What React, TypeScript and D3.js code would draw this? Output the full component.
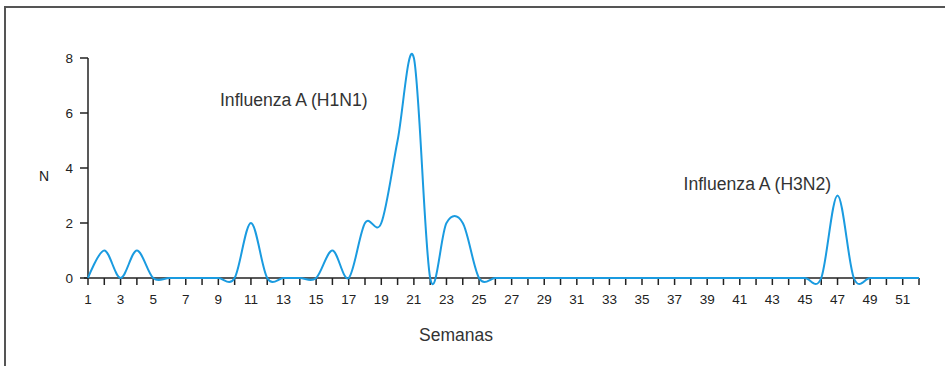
import React from "react"
import * as d3 from "d3"

// weekly counts, weeks 1..52
const weeks = d3.range(1, 53)
const counts = [
  0, 1, 0, 1, 0, 0, 0, 0, 0, 0,
  2, 0, 0, 0, 0, 1, 0, 2, 2, 5,
  8, 0, 2, 2, 0, 0, 0, 0, 0, 0,
  0, 0, 0, 0, 0, 0, 0, 0, 0, 0,
  0, 0, 0, 0, 0, 0, 3, 0, 0, 0,
  0, 0,
]
const yTicks = [0, 2, 4, 6, 8]
const xLabels = d3.range(1, 52, 2)
const annotations = [
  { text: "Influenza A (H1N1)", week: 9.1, value: 6.27 },
  { text: "Influenza A (H3N2)", week: 37.55, value: 3.2 },
]

const width = 945
const height = 366
const font = "'Liberation Sans', Arial, sans-serif"

export default function App() {
  const x = d3.scaleLinear().domain([1, 52]).range([88, 919])
  const y = d3.scaleLinear().domain([0, 8]).range([278, 58])

  const line = d3
    .line<number>()
    .x((d, i) => x(weeks[i]))
    .y(d => y(d))
    .curve(d3.curveCardinal.tension(0))

  return (
    <svg
      width={width}
      height={height}
      style={{ position: "absolute", left: 0, top: 0, background: "white" }}
    >
      {/* frame */}
      <rect x={5} y={7} width={960} height={380} fill="none" stroke="#555" strokeWidth={2} />

      {/* y axis */}
      <line x1={x(1)} x2={x(1)} y1={y(8)} y2={y(0)} stroke="#222" strokeWidth={1.5} />
      {yTicks.map(t => (
        <g key={t}>
          <line x1={x(1) - 8} x2={x(1)} y1={y(t)} y2={y(t)} stroke="#222" strokeWidth={1.5} />
          <text
            x={x(1) - 15}
            y={y(t)}
            dy="0.35em"
            textAnchor="end"
            fontSize={13.5}
            fontFamily={font}
            fill="#222"
          >
            {t}
          </text>
        </g>
      ))}
      <text x={44} y={y(3.7)} dy="0.35em" textAnchor="middle" fontSize={14} fontFamily={font} fill="#222">
        N
      </text>

      {/* x axis */}
      <line x1={x(1) - 4} x2={x(52)} y1={y(0)} y2={y(0)} stroke="#222" strokeWidth={1.5} />
      {weeks.map(w => (
        <line key={w} x1={x(w)} x2={x(w)} y1={y(0)} y2={y(0) + 7} stroke="#222" strokeWidth={1.5} />
      ))}
      {xLabels.map(w => (
        <text
          key={w}
          x={x(w)}
          y={304}
          textAnchor="middle"
          fontSize={13.5}
          fontFamily={font}
          fill="#222"
        >
          {w}
        </text>
      ))}
      <text x={456} y={341} textAnchor="middle" fontSize={17.5} fontFamily={font} fill="#333">
        Semanas
      </text>

      {/* series */}
      <path d={line(counts) ?? ""} fill="none" stroke="#1a9be0" strokeWidth={2} />

      {annotations.map(a => (
        <text
          key={a.text}
          x={x(a.week)}
          y={y(a.value)}
          fontSize={17.6}
          fontFamily={font}
          fill="#333"
        >
          {a.text}
        </text>
      ))}
    </svg>
  )
}
